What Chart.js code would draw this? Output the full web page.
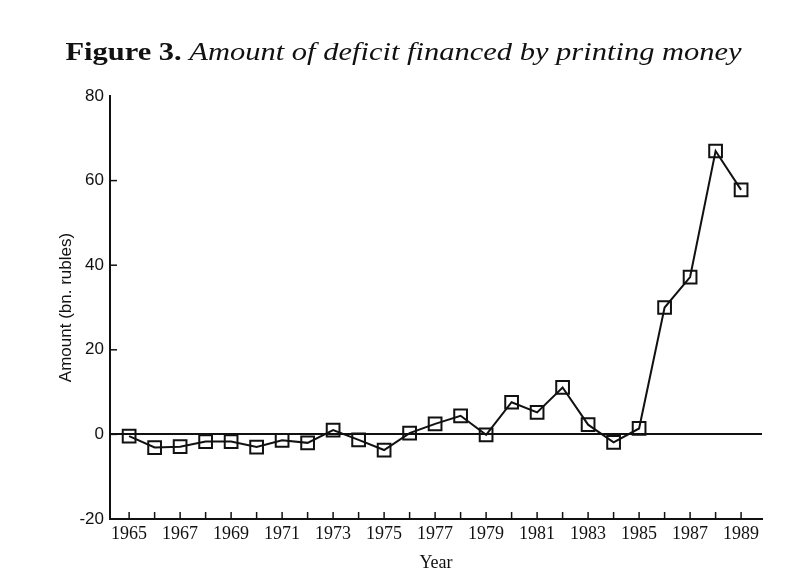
<!DOCTYPE html>
<html>
<head>
<meta charset="utf-8">
<script src="https://cdn.jsdelivr.net/npm/chart.js@4"></script>
<style>
  body { margin: 0; background: #fff; }
  #wrap { position: relative; width: 809px; height: 578px; }
  #title {
    position: absolute; left: 0; top: 38px; width: 809px; text-align: center;
    font-family: "Liberation Serif", serif; font-size: 25px; color: #111;
    transform: scaleX(1.22); transform-origin: 409px 0;
  }
  #title b { font-weight: bold; }
  #title i { font-style: italic; }
</style>
</head>
<body>
<div id="wrap">
  <div id="title"><b>Figure 3.</b> <i>Amount of deficit financed by printing money</i></div>
  <canvas id="chart" width="809" height="578"></canvas>
</div>
<script>
// Data
const years = [1965, 1966, 1967, 1968, 1969, 1970, 1971, 1972, 1973, 1974, 1975, 1976,
  1977, 1978, 1979, 1980, 1981, 1982, 1983, 1984, 1985, 1986, 1987, 1988, 1989];
const amount = [-0.4, -3.1, -2.9, -1.7, -1.7, -3.0, -1.4, -2.0, 1.0, -1.3, -3.7, 0.3,
  2.5, 4.4, -0.1, 7.6, 5.2, 11.1, 2.3, -1.9, 1.4, 30.0, 37.2, 67.0, 57.8];
const yearLabels = [1965, 1967, 1969, 1971, 1973, 1975, 1977, 1979, 1981, 1983, 1985, 1987, 1989];
const yTicks = [-20, 0, 20, 40, 60, 80];

const ink = "#111";
const serif = "Liberation Serif";

// inward tick marks (like the printed figure)
const inwardTicks = {
  id: "inwardTicks",
  afterDraw(chart) {
    const ctx = chart.ctx;
    const xs = chart.scales.x, ys = chart.scales.y;
    ctx.save();
    ctx.strokeStyle = ink;
    ctx.lineWidth = 1.5;
    years.forEach(function (yr) {
      const px = xs.getPixelForValue(yr);
      ctx.beginPath();
      ctx.moveTo(px, ys.bottom);
      ctx.lineTo(px, ys.bottom - 7);
      ctx.stroke();
    });
    yTicks.forEach(function (v) {
      if (v === -20 || v === 80) return;
      const py = ys.getPixelForValue(v);
      ctx.beginPath();
      ctx.moveTo(xs.left, py);
      ctx.lineTo(xs.left + 7, py);
      ctx.stroke();
    });
    ctx.restore();
  },
};

const canvasRef = document.getElementById("chart");

new Chart(canvasRef, {
  type: "line",
  data: {
    datasets: [
      {
        label: "Amount",
        data: years.map((yr, i) => ({ x: yr, y: amount[i] })),
        borderColor: ink,
        borderWidth: 2,
        pointStyle: "rect",
        pointRadius: 9,
        pointBorderWidth: 2,
        pointBorderColor: ink,
        pointBackgroundColor: "rgba(0,0,0,0)",
        tension: 0,
      },
    ],
  },
  options: {
    responsive: false,
    animation: false,
    layout: { padding: { left: 0, top: 96, right: 47, bottom: 0 } },
    plugins: { legend: { display: false }, tooltip: { enabled: false } },
    scales: {
      x: {
        type: "linear",
        min: 1964.25,
        max: 1989.82,
        afterFit: (s) => { s.height = 59; },
        afterBuildTicks: (s) => { s.ticks = yearLabels.map((v) => ({ value: v })); },
        grid: { display: false, drawTicks: false },
        border: { display: true, color: ink, width: 2 },
        ticks: {
          autoSkip: false,
          maxRotation: 0,
          padding: 4,
          color: ink,
          font: { family: serif, size: 18 },
          callback: (v) => String(v),
        },
        title: {
          display: true,
          text: "Year",
          color: ink,
          font: { family: serif, size: 18 },
          padding: { top: 0, bottom: 4 },
        },
      },
      y: {
        min: -20,
        max: 80,
        afterFit: (s) => { s.width = 110; },
        afterBuildTicks: (s) => { s.ticks = yTicks.map((v) => ({ value: v })); },
        grid: {
          drawTicks: false,
          color: (c) => (c.tick && c.tick.value === 0 ? ink : "rgba(0,0,0,0)"),
          lineWidth: 2,
        },
        border: { display: true, color: ink, width: 2 },
        ticks: {
          padding: 6,
          color: ink,
          font: { family: "Liberation Sans", size: 17 },
        },
        title: {
          display: true,
          text: "Amount (bn. rubles)",
          color: ink,
          font: { family: "Liberation Sans", size: 17 },
          padding: { top: 56, bottom: 0 },
        },
      },
    },
  },
  plugins: [inwardTicks],
});
</script>
</body>
</html>
